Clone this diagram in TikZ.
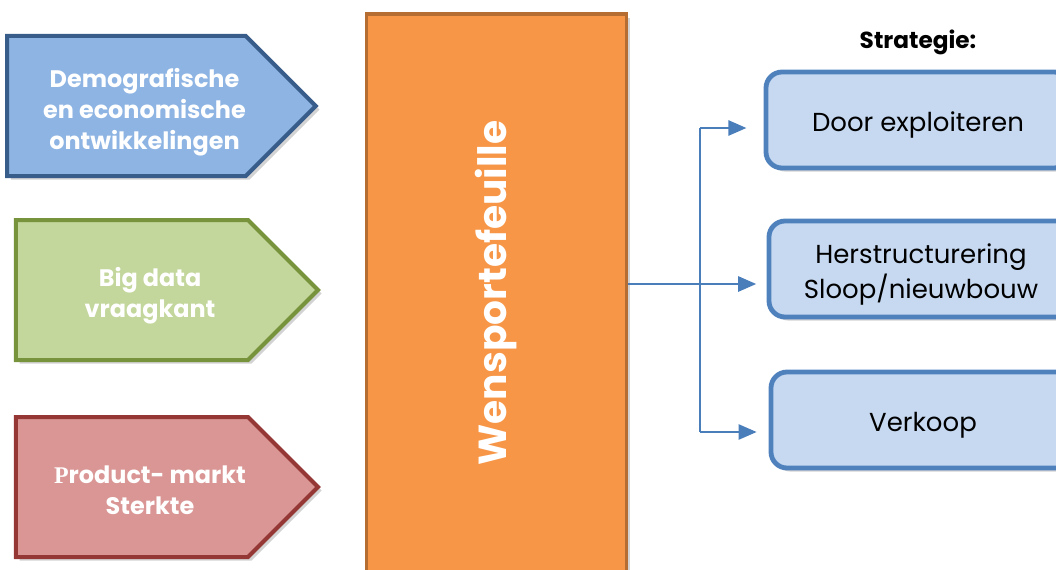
\documentclass[tikz,border=0pt]{standalone}
\usepackage{fontspec}
\setmainfont{Poppins}
\newfontfamily\serifP{Liberation Serif}
\usetikzlibrary{arrows.meta, positioning, shapes.symbols, shadows, calc}

\definecolor{demoFill}{HTML}{8EB4E3}
\definecolor{demoLine}{HTML}{385D8A}
\definecolor{bigFill}{HTML}{C3D69B}
\definecolor{bigLine}{HTML}{77933C}
\definecolor{prodFill}{HTML}{D99694}
\definecolor{prodLine}{HTML}{953735}
\definecolor{wensFill}{HTML}{F79646}
\definecolor{wensLine}{HTML}{B66D31}
\definecolor{stratFill}{HTML}{C6D9F1}
\definecolor{stratLine}{HTML}{4F81BD}
\definecolor{linkCol}{HTML}{4A7EBB}

% text of a factor arrow, a little right of and below the body centre
\newcommand{\factortext}[1]{\hspace{9mm}\raisebox{-1.5mm}[\height][\depth]{\begin{tabular}{@{}c@{}}#1\end{tabular}}\hspace{-9mm}}
% text of a strategy box, a little low
\newcommand{\strattext}[1]{\raisebox{-1.3mm}[\height][\depth]{\begin{tabular}{@{}c@{}}#1\end{tabular}}}

\begin{document}
\begin{tikzpicture}[x=0.25mm, y=-0.25mm,
    shade/.style={drop shadow={opacity=0.35, shadow xshift=0.9mm, shadow yshift=-0.9mm}},
    factor/.style={signal, signal to=east, signal pointer angle=90, line width=1mm,
        inner sep=0pt, minimum width=75.5mm, minimum height=35mm,
        text=white, font=\fontsize{17}{22}\selectfont\bfseries, shade},
    strat/.style={draw=stratLine, fill=stratFill, line width=1.2mm, rounded corners=4mm,
        minimum width=76mm, minimum height=24mm,
        font=\fontsize{18.5}{23.5}\selectfont, shade},
    link/.style={draw=linkCol, line width=0.5mm},
    tip/.style={link, -{Triangle[length=4.5mm, width=3.8mm]}}]
    \useasboundingbox (0,0) rectangle (1056,569);

    % Nodes
    \node (demo) [factor, draw=demoLine, fill=demoFill] at (126.5,106) {\factortext{Demografische\\en economische\\ontwikkelingen}};
    \node (big) [factor, draw=bigLine, fill=bigFill] at (132,290) {\factortext{Big data\\vraagkant}};
    \node (prod) [factor, draw=prodLine, fill=prodFill] at (132,487) {\factortext{{\serifP P}roduct- markt\\Sterkte}};

    \node (wens) [draw=wensLine, fill=wensFill, line width=0.8mm, minimum width=65mm, minimum height=139.5mm,
        text=white, font=\fontsize{27.8}{32}\selectfont\bfseries, shade] at (496.5,293) {\rotatebox{90}{Wensportefeuille}};

    \node (door) [strat] at (918,120) {\strattext{Door exploiteren}};
    \node (herst) [strat] at (921,269) {\strattext{Herstructurering\\Sloop/nieuwbouw}};
    \node (verk) [strat] at (923,420) {\strattext{Verkoop}};
    \node (titel) [above=2.5mm of door, font=\fontsize{16.5}{19}\selectfont\bfseries] {Strategie:};

    % Arrows
    \coordinate (fork) at (700,284);
    \coordinate (hi) at (700,128);
    \coordinate (lo) at (700,432);
    \draw[link] (hi) -- (lo);
    \draw[tip, shorten >=2.6mm] (wens.east |- fork) -- (herst.west |- fork);
    \draw[tip, shorten >=4.3mm] (hi) -- (hi -| door.west);
    \draw[tip, shorten >=3mm] (lo) -- (lo -| verk.west);
\end{tikzpicture}
\end{document}
